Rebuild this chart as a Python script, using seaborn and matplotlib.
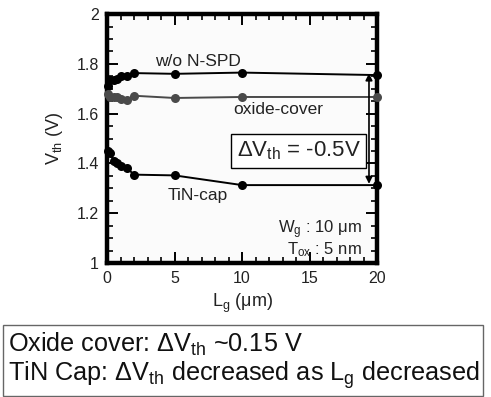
import matplotlib
matplotlib.use("Agg")
import matplotlib.pyplot as plt
import seaborn as sns
import pandas as pd
from matplotlib.ticker import MultipleLocator
from matplotlib.patches import Rectangle

# ---- data ----
lg = [0.1, 0.25, 0.5, 0.75, 1, 1.5, 2, 5, 10, 20]
vth_wo = [1.71, 1.735, 1.735, 1.74, 1.75, 1.75, 1.763, 1.76, 1.765, 1.755]
vth_oxide = [1.68, 1.667, 1.667, 1.665, 1.66, 1.655, 1.672, 1.663, 1.667, 1.667]
vth_tin = [1.45, 1.44, 1.41, 1.40, 1.39, 1.38, 1.355, 1.352, 1.313, 1.313]
series_names = ["w/o N-SPD", "oxide-cover", "TiN-cap"]
x_ticks = [0, 5, 10, 15, 20]
y_ticks = [1, 1.2, 1.4, 1.6, 1.8, 2]

sns.set_theme(style="white")
plt.rcParams['font.family'] = ['Liberation Sans', 'DejaVu Sans']
plt.rcParams['mathtext.default'] = 'regular'

df = pd.DataFrame({
    "Lg": lg * 3,
    "Vth": vth_wo + vth_oxide + vth_tin,
    "series": [series_names[0]] * len(lg) + [series_names[1]] * len(lg) + [series_names[2]] * len(lg),
})

fig = plt.figure(figsize=(4.91, 3.97), dpi=100)
ax = fig.add_axes([0.218, 0.3375, 0.550, 0.627])
ax.set_facecolor('#fbfbfb')

palette = {series_names[0]: '#000000', series_names[1]: '#4a4a4a', series_names[2]: '#000000'}
sns.lineplot(data=df, x="Lg", y="Vth", hue="series", palette=palette, marker='o',
             markersize=6.5, markeredgewidth=0, linewidth=1.4, legend=False, ax=ax,
             clip_on=False, zorder=3)

ax.set_xlim(0, 20)
ax.set_ylim(1, 2)
ax.set_xticks(x_ticks)
ax.set_yticks(y_ticks)
ax.set_xticklabels([str(t) for t in x_ticks])
ax.set_yticklabels(['1', '1.2', '1.4', '1.6', '1.8', '2'])
ax.xaxis.set_minor_locator(MultipleLocator(1))
ax.yaxis.set_minor_locator(MultipleLocator(0.05))
ax.tick_params(which='both', direction='in', top=True, right=True, bottom=True, left=True,
               color='black', labelsize=11.5, labelcolor='#222222')
ax.tick_params(which='major', length=8, width=1.4, pad=6)
ax.tick_params(which='minor', length=4.5, width=1.2)
for s in ax.spines.values():
    s.set_linewidth(3.2)
    s.set_color('black')

ax.set_xlabel('L$_g$ ($\\mu$m)', fontsize=13, labelpad=4, color='#222222')
ax.set_ylabel('V$_{th}$ (V)', fontsize=13, labelpad=8, color='#222222')

ax.text(6.7, 1.81, 'w/o N-SPD', fontsize=12.5, ha='center', va='center', color='#222222')
ax.text(12.7, 1.615, 'oxide-cover', fontsize=12.5, ha='center', va='center', color='#222222')
ax.text(6.7, 1.273, 'TiN-cap', fontsize=12.5, ha='center', va='center', color='#222222')
ax.text(14.2, 1.45, '\u0394V$_{th}$ = -0.5V', fontsize=16, ha='center', va='center', color='#222222',
        bbox=dict(boxstyle='square,pad=0.25', fc='white', ec='black', lw=1.0))
ax.text(18.9, 1.132, 'W$_g$ : 10 \u03bcm', fontsize=12, ha='right', va='center', color='#222222')
ax.text(18.9, 1.055, 'T$_{ox}$ : 5 nm', fontsize=12, ha='right', va='center', color='#222222')

ax.annotate('', xy=(19.4, 1.318), xytext=(19.4, 1.762),
            arrowprops=dict(arrowstyle='<|-|>', color='black', lw=1.2,
                            mutation_scale=10, shrinkA=0, shrinkB=0))

# bottom note box
fig.patches.append(Rectangle((0.006, 0.003), 0.978, 0.178, transform=fig.transFigure,
                             fill=False, ec='#666666', lw=1.0))
fig.text(0.016, 0.133, 'Oxide cover: \u0394V$_{th}$ ~0.15 V', fontsize=18.2, ha='left', va='center',
         color='#111111')
fig.text(0.016, 0.055, 'TiN Cap: \u0394V$_{th}$ decreased as L$_g$ decreased', fontsize=18.2,
         ha='left', va='center', color='#111111')

fig.savefig('out.png', dpi=100)
